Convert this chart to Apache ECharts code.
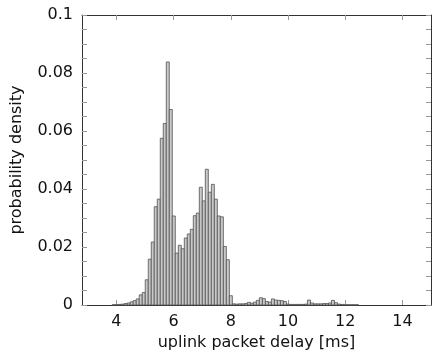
<!DOCTYPE html>
<html>
<head>
<meta charset="utf-8">
<script src="https://cdn.jsdelivr.net/npm/echarts@6/dist/echarts.min.js"></script>
<style>
  html, body { margin: 0; padding: 0; background: #fff; }
  #chart { width: 432px; height: 358px; }
</style>
</head>
<body>
<div id="chart"></div>
<script>
// histogram bins (ms)
const binStart = 3.856;
const binWidth = 0.105;
const density = [
  0.0001, 0.0001, 0.0002, 0.0003, 0.0005, 0.0007, 0.0011, 0.0015, 0.0021, 0.0035,
  0.0043, 0.0087, 0.0158, 0.0217, 0.0339, 0.0365, 0.0575, 0.0626, 0.0838, 0.0674,
  0.0307, 0.0179, 0.0206, 0.0194, 0.0231, 0.0245, 0.0261, 0.0308, 0.0317, 0.0406,
  0.0359, 0.0468, 0.0389, 0.0416, 0.0365, 0.0307, 0.0304, 0.0202, 0.0156, 0.0032,
  0.0004, 0.0003, 0.0004, 0.0004, 0.0005, 0.0009, 0.0006, 0.0010, 0.0016, 0.0025,
  0.0022, 0.0012, 0.0010, 0.0021, 0.0017, 0.0016, 0.0015, 0.0012, 0.0003, 0.0002,
  0.0002, 0.0002, 0.0002, 0.0002, 0.0003, 0.0017, 0.0007, 0.0004, 0.0004, 0.0004,
  0.0005, 0.0005, 0.0007, 0.0016, 0.0008, 0.0003, 0.0002, 0.0001, 0.0001, 0.0001,
  0.0001, 0.0001
];
const xTicks = [4, 6, 8, 10, 12, 14];
const yTicks = [0, 0.02, 0.04, 0.06, 0.08, 0.1];

const bins = density.map((d, i) => {
  const lo = binStart + i * binWidth;
  return [lo, lo + binWidth, d];
});

const font = 'DejaVu Sans';
const fontSize = 16;
const textColor = '#111';
const axisColor = '#333';

const chart = echarts.init(document.getElementById('chart'));

const xBase = {
  type: 'value',
  min: 2.8,
  max: 15,
  splitLine: { show: false },
  axisLine: { show: true, onZero: false, lineStyle: { color: axisColor, width: 1 } },
  axisTick: { inside: true, length: 5, customValues: xTicks, lineStyle: { color: '#999' } }
};
const yBase = {
  type: 'value',
  min: 0,
  max: 0.1,
  interval: 0.02,
  splitLine: { show: false },
  axisLine: { show: true, lineStyle: { color: axisColor, width: 1 } },
  axisTick: { inside: true, length: 5, lineStyle: { color: '#999' } },
  minorTick: { show: true, splitNumber: 4, length: 5, lineStyle: { color: '#999' } }
};

chart.setOption({
  animation: false,
  grid: { left: 82, right: 1, top: 15, bottom: 53 },
  xAxis: [
    Object.assign({}, xBase, {
      position: 'bottom',
      name: 'uplink packet delay [ms]',
      nameLocation: 'middle',
      nameGap: 29,
      nameTextStyle: { fontFamily: font, fontSize: fontSize, color: textColor },
      axisLabel: { customValues: xTicks, margin: 9, fontFamily: font, fontSize: fontSize, color: textColor }
    }),
    Object.assign({}, xBase, { position: 'top', axisLabel: { show: false } })
  ],
  yAxis: [
    Object.assign({}, yBase, {
      position: 'left',
      name: 'probability density',
      nameLocation: 'middle',
      nameGap: 57,
      nameTextStyle: { fontFamily: font, fontSize: fontSize, color: textColor },
      axisLabel: {
        margin: 9, fontFamily: font, fontSize: fontSize, color: textColor,
        formatter: v => yTicks.includes(+v.toFixed(2)) ? String(+v.toFixed(2)) : ''
      }
    }),
    Object.assign({}, yBase, { position: 'right', axisLabel: { show: false } })
  ],
  series: [{
    type: 'custom',
    xAxisIndex: 0,
    yAxisIndex: 0,
    data: bins,
    renderItem: (params, api) => {
      const p0 = api.coord([api.value(0), 0]);
      const p1 = api.coord([api.value(1), api.value(2)]);
      return {
        type: 'rect',
        shape: { x: p0[0], y: p1[1], width: p1[0] - p0[0], height: p0[1] - p1[1] },
        style: { fill: '#c8c8c8', stroke: '#505050', lineWidth: 0.8 }
      };
    }
  }]
});
</script>
</body>
</html>
